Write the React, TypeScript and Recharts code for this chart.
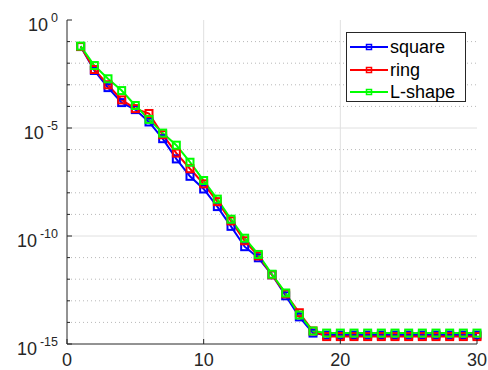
import {
  CartesianGrid,
  Legend,
  Line,
  LineChart,
  XAxis,
  YAxis,
} from 'recharts';

const iterations = [
  1, 2, 3, 4, 5, 6, 7, 8, 9, 10, 11, 12, 13, 14, 15, 16, 17, 18, 19, 20, 21,
  22, 23, 24, 25, 26, 27, 28, 29, 30,
];

const squareErr = [
  5.9e-2, 4.6e-3, 7.4e-4, 1.5e-4, 7.1e-5, 1.9e-5, 3.2e-6, 3.7e-7, 5.8e-8,
  1.5e-8, 2.3e-9, 2.8e-10, 3.2e-11, 9.8e-12, 1.6e-12, 1.7e-13, 1.8e-14,
  3.2e-15, 2.6e-15, 2.6e-15, 2.6e-15, 2.6e-15, 2.6e-15, 2.6e-15, 2.6e-15,
  2.6e-15, 2.6e-15, 2.6e-15, 2.6e-15, 2.6e-15,
];

const ringErr = [
  5.9e-2, 5.1e-3, 1.0e-3, 2.0e-4, 7.9e-5, 4.7e-5, 4.9e-6, 6.9e-7, 1.3e-7,
  2.6e-8, 3.9e-9, 5.0e-10, 6.0e-11, 1.2e-11, 1.6e-12, 2.1e-13, 2.8e-14,
  4.0e-15, 2.2e-15, 2.2e-15, 2.2e-15, 2.2e-15, 2.2e-15, 2.2e-15, 2.2e-15,
  2.2e-15, 2.2e-15, 2.2e-15, 2.2e-15, 2.2e-15,
];

const lshapeErr = [
  6.2e-2, 7.8e-3, 1.9e-3, 5.4e-4, 1.1e-4, 2.5e-5, 5.8e-6, 1.6e-6, 2.6e-7,
  3.7e-8, 5.1e-9, 6.0e-10, 7.9e-11, 1.4e-11, 1.7e-12, 2.3e-13, 2.2e-14,
  4.0e-15, 3.2e-15, 3.2e-15, 3.2e-15, 3.2e-15, 3.2e-15, 3.2e-15, 3.2e-15,
  3.2e-15, 3.2e-15, 3.2e-15, 3.2e-15, 3.2e-15,
];

const xTicks = [0, 10, 20, 30];
const xMajorGrid = [10, 20];
const yTicks = [
  1, 1e-1, 1e-2, 1e-3, 1e-4, 1e-5, 1e-6, 1e-7, 1e-8, 1e-9, 1e-10, 1e-11,
  1e-12, 1e-13, 1e-14, 1e-15,
];
const yMajorGrid = [1e-5, 1e-10];
const yMinorGrid = [
  1e-1, 1e-2, 1e-3, 1e-4, 1e-6, 1e-7, 1e-8, 1e-9, 1e-11, 1e-12, 1e-13, 1e-14,
];

const series = [
  {key: 'square', name: 'square', color: '#0000ff'},
  {key: 'ring', name: 'ring', color: '#ff0000'},
  {key: 'lshape', name: 'L-shape', color: '#00ff00'},
];

const data = iterations.map((it, i) => ({
  it,
  square: squareErr[i],
  ring: ringErr[i],
  lshape: lshapeErr[i],
}));

const FONT = '"Liberation Sans", Arial, Helvetica, sans-serif';
const AXIS = '#262626';

const expOf = (v: number) => Math.round(Math.log10(v));

const LeftTick = (props: any) => {
  const {x, y, payload} = props;
  const e = expOf(payload.value);
  const major = e % 5 === 0;
  return (
    <g>
      <line x1={x} y1={y} x2={x + (major ? 5 : 3)} y2={y} stroke={AXIS} />
      {major && (
        <text
          x={x - 9}
          y={y + 11}
          textAnchor="end"
          fontFamily={FONT}
          fontSize={18}
          fill={AXIS}
        >
          10
          <tspan dx={3} dy={-9} fontSize={12.5}>
            {String(e)}
          </tspan>
        </text>
      )}
    </g>
  );
};

const RightTick = (props: any) => {
  const {x, y, payload} = props;
  const major = expOf(payload.value) % 5 === 0;
  return <line x1={x} y1={y} x2={x - (major ? 5 : 3)} y2={y} stroke={AXIS} />;
};

const BottomTick = (props: any) => {
  const {x, y, payload} = props;
  return (
    <g>
      <line x1={x} y1={y} x2={x} y2={y - 5} stroke={AXIS} />
      <text
        x={x}
        y={y + 22}
        textAnchor="middle"
        fontFamily={FONT}
        fontSize={18}
        fill={AXIS}
      >
        {payload.value}
      </text>
    </g>
  );
};

const TopTick = (props: any) => {
  const {x, y} = props;
  return <line x1={x} y1={y} x2={x} y2={y + 5} stroke={AXIS} />;
};

const squareDot = (color: string) => (props: any) => {
  const {cx, cy, index} = props;
  if (cx == null || cy == null) return <g key={index} />;
  return (
    <rect
      key={index}
      x={cx - 3.5}
      y={cy - 3.5}
      width={7}
      height={7}
      fill="none"
      stroke={color}
      strokeWidth={2}
    />
  );
};

const LegendBox = () => (
  <div
    style={{
      width: 120,
      height: 70,
      boxSizing: 'border-box',
      border: `1px solid ${AXIS}`,
      background: '#fff',
      paddingTop: 3,
      fontFamily: FONT,
      fontSize: 18,
      color: '#000',
    }}
  >
    {series.map((s) => (
      <div
        key={s.key}
        style={{display: 'flex', alignItems: 'center', height: 22.5}}
      >
        <svg width={43} height={12} style={{display: 'block'}}>
          <line x1={3} y1={6} x2={41} y2={6} stroke={s.color} strokeWidth={2} />
          <rect
            x={19.5}
            y={3.5}
            width={5}
            height={5}
            fill="none"
            stroke={s.color}
            strokeWidth={1.5}
          />
        </svg>
        <span style={{lineHeight: '18px'}}>{s.name}</span>
      </div>
    ))}
  </div>
);

export default function App() {
  return (
    <div style={{position: 'absolute', left: 0, top: 0, background: '#fff'}}>
      <LineChart
        width={488}
        height={370}
        data={data}
        margin={{top: 20, right: 11, left: 0, bottom: 0}}
      >
        <CartesianGrid
          vertical={false}
          horizontalValues={yMinorGrid}
          stroke="#b8b8b8"
          strokeDasharray="1 3"
        />
        <CartesianGrid
          horizontalValues={yMajorGrid}
          verticalValues={xMajorGrid}
          stroke="#e0e0e0"
        />
        <XAxis
          dataKey="it"
          type="number"
          domain={[0, 30]}
          ticks={xTicks}
          interval={0}
          height={26}
          tickSize={0}
          tickMargin={0}
          axisLine={{stroke: AXIS}}
          tickLine={false}
          tick={<BottomTick />}
        />
        <XAxis
          xAxisId="top"
          orientation="top"
          dataKey="it"
          type="number"
          domain={[0, 30]}
          ticks={xTicks}
          interval={0}
          height={0}
          tickSize={0}
          tickMargin={0}
          axisLine={{stroke: AXIS}}
          tickLine={false}
          tick={<TopTick />}
        />
        <YAxis
          scale="log"
          domain={[1e-15, 1]}
          allowDataOverflow
          ticks={yTicks}
          interval={0}
          width={67}
          tickSize={0}
          tickMargin={0}
          axisLine={{stroke: AXIS}}
          tickLine={false}
          tick={<LeftTick />}
        />
        <YAxis
          yAxisId="right"
          orientation="right"
          scale="log"
          domain={[1e-15, 1]}
          allowDataOverflow
          ticks={yTicks}
          interval={0}
          width={0}
          tickSize={0}
          tickMargin={0}
          axisLine={{stroke: AXIS}}
          tickLine={false}
          tick={<RightTick />}
        />
        {series.map((s) => (
          <Line
            key={s.key}
            dataKey={s.key}
            name={s.name}
            stroke={s.color}
            strokeWidth={2}
            dot={squareDot(s.color)}
            activeDot={false}
            isAnimationActive={false}
          />
        ))}
        <Legend
          layout="vertical"
          align="center"
          verticalAlign="middle"
          wrapperStyle={{left: 346, top: 32, width: 120, height: 70}}
          content={<LegendBox />}
        />
      </LineChart>
    </div>
  );
}
